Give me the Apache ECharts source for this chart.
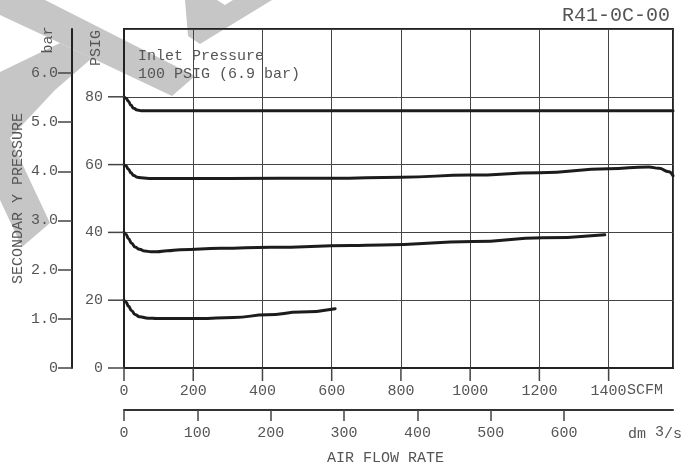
<!DOCTYPE html>
<html><head><meta charset="utf-8">
<script src="https://cdn.jsdelivr.net/npm/echarts@6/dist/echarts.min.js"></script>
<style>html,body{margin:0;padding:0;background:#fff}#c{width:690px;height:468px}</style>
</head><body><div id="c"></div>
<script>
// ---- data ----
const chartCode = 'R41-0C-00';
const scfmTicks = [0, 200, 400, 600, 800, 1000, 1200, 1400];
const dmTicks = [0, 100, 200, 300, 400, 500, 600];
const psigTicks = [0, 20, 40, 60, 80];
const barTicks = [0, 1, 2, 3, 4, 5, 6];

const curve80Flow = [0, 6, 13, 20, 28, 38, 50, 70, 1586];
const curve80Psig = [80, 79.6, 78.6, 77.5, 76.6, 76.1, 75.9, 75.9, 75.9];

const curve60Flow = [0, 6, 13, 20, 28, 38, 50, 80, 300, 600, 800, 1000, 1200, 1400, 1516, 1545, 1574, 1586];
const curve60Psig = [60, 59.6, 58.6, 57.6, 56.8, 56.3, 56.1, 55.9, 55.9, 56.0, 56.3, 56.9, 57.6, 58.8, 59.3, 58.9, 57.9, 56.7];

const curve40Flow = [0, 6, 13, 22, 32, 45, 60, 78, 95, 125, 162, 279, 424, 656, 743, 1009, 1210, 1389];
const curve40Psig = [40, 39.4, 38.1, 36.8, 35.7, 35.0, 34.5, 34.3, 34.3, 34.6, 34.9, 35.3, 35.6, 36.1, 36.3, 37.3, 38.4, 39.3];

const curve20Flow = [0, 6, 13, 22, 32, 45, 70, 95, 216, 317, 414, 511, 610];
const curve20Psig = [20, 19.4, 18.2, 16.9, 15.8, 15.1, 14.7, 14.6, 14.6, 14.9, 15.7, 16.5, 17.5];

const SCFM_MAX = 1586;
const PSIG_MAX = 100;
const SCFM_PER_DM3S = 2.119;
const PSI_PER_BAR = 14.5038;

// ---- chart ----
const FONT = '"Liberation Mono", monospace';
const TXT = '#555';
const GRIDC = '#444';
const zip = (xs, ys) => xs.map((x, i) => [x, ys[i]]);

const lineSeries = (data) => ({
  type: 'line', data, xAxisIndex: 0, yAxisIndex: 0,
  smooth: 0.5, smoothMonotone: 'x', symbol: 'none', silent: true, z: 5,
  lineStyle: { color: '#1c1c1c', width: 3, cap: 'round', join: 'round' }
});

const wm = '#c6c6c6';
const staticGraphics = [
  { type: 'polygon', silent: true, z: -10, shape: { points: [[0,0],[45,0],[195,76],[172,96],[60,43],[0,15]] }, style: { fill: wm } },
  { type: 'polygon', silent: true, z: -10, shape: { points: [[0,72],[60,43],[92,58],[55,90],[10,138],[50,223],[22,247],[0,200]] }, style: { fill: wm } },
  { type: 'polygon', silent: true, z: -10, shape: { points: [[185,0],[217,0],[225,5],[233,0],[272,0],[200,44],[188,36]] }, style: { fill: wm } },
  { type: 'text', silent: true, z: 10, x: 96.5, y: 48, rotation: Math.PI / 2,
    style: { text: 'PSIG', fontFamily: FONT, fontSize: 15, fill: TXT, align: 'center', verticalAlign: 'middle' } },
  { type: 'text', silent: true, z: 10, x: 48.5, y: 40, rotation: Math.PI / 2,
    style: { text: 'bar', fontFamily: FONT, fontSize: 15, fill: TXT, align: 'center', verticalAlign: 'middle' } },
  { type: 'text', silent: true, z: 10, x: 138, y: 46.5,
    style: { text: 'Inlet Pressure\n100 PSIG (6.9 bar)', fontFamily: FONT, fontSize: 15, lineHeight: 18.3, fill: TXT, align: 'left', verticalAlign: 'top' } }
];

const chart = echarts.init(document.getElementById('c'));
chart.setOption({
  animation: false,
  backgroundColor: '#fff',
  title: {
    text: chartCode, right: 20, top: 6, padding: 0,
    textStyle: { fontFamily: FONT, fontSize: 20, fontWeight: 'normal', color: TXT }
  },
  grid: {
    left: 124, right: 17, top: 29, bottom: 100,
    show: true, borderColor: '#222', borderWidth: 2, backgroundColor: 'transparent',
    outerBoundsMode: 'none', containLabel: false
  },
  xAxis: [
    {
      type: 'value', min: 0, max: SCFM_MAX, interval: 200, position: 'bottom',
      axisLine: { show: true, onZero: false, lineStyle: { color: '#222', width: 2 } },
      axisTick: { show: false },
      axisLabel: { customValues: scfmTicks, margin: 16, fontFamily: FONT, fontSize: 15, color: TXT, formatter: v => String(v) },
      splitLine: { show: true, lineStyle: { color: GRIDC, width: 1 } },
      name: 'AIR FLOW RATE', nameLocation: 'middle', nameGap: 83, nameMoveOverlap: false,
      nameTextStyle: { fontFamily: FONT, fontSize: 15, color: TXT, padding: [0, 26, 0, 0] }
    },
    {
      type: 'value', min: 0, max: SCFM_MAX / SCFM_PER_DM3S, interval: 100, position: 'bottom', offset: 42,
      axisLine: { show: true, onZero: false, lineStyle: { color: '#333', width: 2 } },
      axisTick: { show: true, customValues: dmTicks, length: 11, inside: false, lineStyle: { color: '#444', width: 1.5 } },
      axisLabel: { customValues: dmTicks, margin: 16, fontFamily: FONT, fontSize: 15, color: TXT, formatter: v => String(v) },
      splitLine: { show: false },
      name: '{a|dm }{b|3}{a|/s}', nameLocation: 'end', nameGap: -45, nameMoveOverlap: false,
      nameTextStyle: {
        fontFamily: FONT, fontSize: 15, color: TXT, align: 'left', verticalAlign: 'top', padding: [15, 0, 0, 0],
        rich: {
          a: { fontFamily: FONT, fontSize: 15, color: TXT, lineHeight: 17, verticalAlign: 'bottom' },
          b: { fontFamily: FONT, fontSize: 15, color: TXT, lineHeight: 17, verticalAlign: 'top', padding: [0, 0, 9, 0] }
        }
      }
    },
    {
      // carries the unit after 1400
      type: 'value', min: 0, max: SCFM_MAX, interval: 200, position: 'bottom', offset: 1,
      axisLine: { show: false, onZero: false }, axisTick: { show: false },
      axisLabel: { show: false }, splitLine: { show: false },
      name: 'SCFM', nameLocation: 'end', nameGap: -46, nameMoveOverlap: false,
      nameTextStyle: { fontFamily: FONT, fontSize: 15, color: TXT, align: 'left', verticalAlign: 'top', padding: [14, 0, 0, 0] }
    }
  ],
  yAxis: [
    {
      type: 'value', min: 0, max: PSIG_MAX, interval: 20, position: 'left',
      axisLine: { show: true, onZero: false, lineStyle: { color: '#222', width: 2 } },
      axisTick: { show: false },
      axisLabel: { customValues: psigTicks, margin: 21, fontFamily: FONT, fontSize: 15, color: TXT },
      splitLine: { show: true, lineStyle: { color: GRIDC, width: 1 } }
    },
    {
      type: 'value', min: 0, max: PSIG_MAX / PSI_PER_BAR, interval: 1, position: 'left', offset: 52,
      axisLine: { show: true, onZero: false, lineStyle: { color: '#222', width: 2 } },
      axisTick: { show: true, customValues: barTicks, length: 14, inside: false, lineStyle: { color: '#444', width: 1.5 } },
      axisLabel: {
        customValues: barTicks, margin: 14, fontFamily: FONT, fontSize: 15, color: TXT,
        formatter: v => v === 0 ? '0' : v.toFixed(1)
      },
      splitLine: { show: false },
      name: 'SECONDAR Y PRESSURE', nameLocation: 'middle', nameGap: 46, nameMoveOverlap: false,
      nameTextStyle: { fontFamily: FONT, fontSize: 15, color: TXT }
    }
  ],
  graphic: { elements: staticGraphics },
  series: [
    lineSeries(zip(curve80Flow, curve80Psig)),
    lineSeries(zip(curve60Flow, curve60Psig)),
    lineSeries(zip(curve40Flow, curve40Psig)),
    lineSeries(zip(curve20Flow, curve20Psig))
  ]
});

// outward tick marks of the SCFM and PSIG scales, positioned through the chart's own axes
const finder = { xAxisIndex: 0, yAxisIndex: 0 };
const tickEls = [];
scfmTicks.forEach(v => {
  const p = chart.convertToPixel(finder, [v, 0]);
  tickEls.push({ type: 'line', silent: true, z: 100,
    shape: { x1: p[0], y1: p[1], x2: p[0], y2: p[1] + 13 },
    style: { stroke: GRIDC, lineWidth: 1.5 } });
});
psigTicks.forEach(v => {
  const p = chart.convertToPixel(finder, [0, v]);
  tickEls.push({ type: 'line', silent: true, z: 100,
    shape: { x1: p[0] - 16, y1: p[1], x2: p[0], y2: p[1] },
    style: { stroke: GRIDC, lineWidth: 1.5 } });
});
chart.setOption({ graphic: { elements: staticGraphics.concat(tickEls) } });
</script>
</body></html>
